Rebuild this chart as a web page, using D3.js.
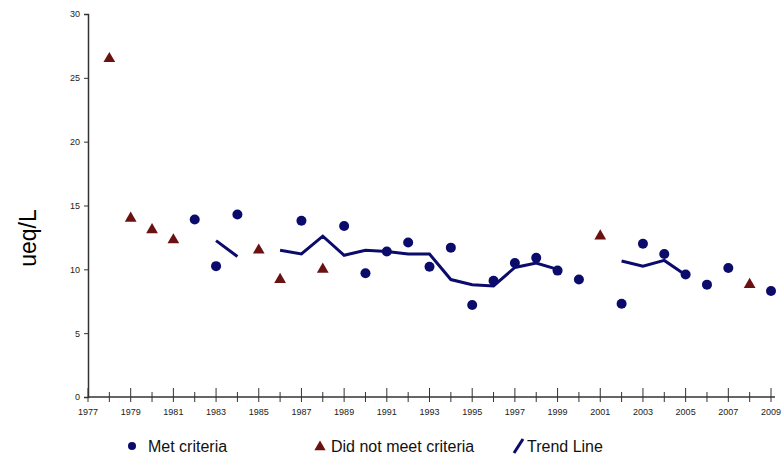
<!DOCTYPE html>
<html>
<head>
<meta charset="utf-8">
<script src="https://cdn.jsdelivr.net/npm/d3@7/dist/d3.min.js"></script>
<style>
  body { margin: 0; background: #fff; }
  svg { display: block; font-family: Arial, "Liberation Sans", sans-serif; }
</style>
</head>
<body>
<svg id="chart" width="783" height="456"></svg>
<script>
// met criteria (circles)
var metYears  = [1982, 1983, 1984, 1987, 1989, 1990, 1991, 1992, 1993, 1994, 1995, 1996, 1997, 1998, 1999, 2000, 2002, 2003, 2004, 2005, 2006, 2007, 2009];
var metValues = [13.9, 10.25, 14.3, 13.8, 13.4, 9.7, 11.4, 12.1, 10.2, 11.7, 7.2, 9.1, 10.5, 10.9, 9.9, 9.2, 7.3, 12.0, 11.2, 9.6, 8.8, 10.1, 8.3];

// did not meet criteria (triangles)
var notMetYears  = [1978, 1979, 1980, 1981, 1985, 1986, 1988, 2001, 2008];
var notMetValues = [26.5, 14.0, 13.1, 12.3, 11.5, 9.2, 10.0, 12.6, 8.8];

// trend line, three separate pieces
var trendYears = [
  [1983, 1984],
  [1986, 1987, 1988, 1989, 1990, 1991, 1992, 1993, 1994, 1995, 1996, 1997, 1998, 1999],
  [2002, 2003, 2004, 2005]
];
var trendValues = [
  [12.25, 11.0],
  [11.5, 11.2, 12.6, 11.1, 11.5, 11.4, 11.2, 11.2, 9.2, 8.8, 8.7, 10.15, 10.5, 10.0],
  [10.65, 10.25, 10.7, 9.55]
];

var yTicks = [0, 5, 10, 15, 20, 25, 30];
var xLabelYears = d3.range(1977, 2010, 2);
var xAllYears = d3.range(1977, 2010);

var navy = "#0b0b6b";
var maroon = "#6a1212";

var svg = d3.select("#chart");

var x = d3.scaleLinear().domain([1977, 2009]).range([88, 771]);
var y = d3.scaleLinear().domain([0, 30]).range([397, 14]);

// y axis
var yAxis = svg.append("g").attr("transform", "translate(88,0)")
  .call(d3.axisLeft(y).tickValues(yTicks).tickSize(4).tickPadding(4));
yAxis.select(".domain").attr("stroke", "#333").attr("stroke-width", 1.5);
yAxis.selectAll(".tick line").attr("stroke", "#333");
yAxis.selectAll("text").attr("font-size", 9).attr("fill", "#222");

// x axis
var xg = svg.append("g").attr("transform", "translate(0,397)");
xg.append("line").attr("x1", 88).attr("x2", 775).attr("y1", 0).attr("y2", 0)
  .attr("stroke", "#333").attr("stroke-width", 1.5);
xg.selectAll("line.tk").data(xAllYears).enter().append("line")
  .attr("class", "tk")
  .attr("x1", function (d) { return x(d); })
  .attr("x2", function (d) { return x(d); })
  .attr("y1", function (d) { return d % 2 ? -9 : -5; })
  .attr("y2", 5)
  .attr("stroke", "#333");
xg.selectAll("text").data(xLabelYears).enter().append("text")
  .attr("x", function (d) { return x(d); })
  .attr("y", 18)
  .attr("text-anchor", "middle")
  .attr("font-size", 9)
  .attr("fill", "#222")
  .text(function (d) { return d; });

// y label
svg.append("text")
  .attr("transform", "translate(36,238) rotate(-90)")
  .attr("text-anchor", "middle")
  .attr("font-size", 23)
  .attr("fill", "#000")
  .text("ueq/L");

// trend line
var line = d3.line().x(function (d) { return x(d[0]); }).y(function (d) { return y(d[1]); });
trendYears.forEach(function (yrs, i) {
  svg.append("path")
    .datum(d3.zip(yrs, trendValues[i]))
    .attr("d", line)
    .attr("fill", "none")
    .attr("stroke", navy)
    .attr("stroke-width", 3);
});

// circles
svg.selectAll("circle.met").data(d3.zip(metYears, metValues)).enter().append("circle")
  .attr("class", "met")
  .attr("cx", function (d) { return x(d[0]); })
  .attr("cy", function (d) { return y(d[1]); })
  .attr("r", 5)
  .attr("fill", navy);

// triangles
var tri = d3.symbol().type(d3.symbolTriangle).size(60);
svg.selectAll("path.notmet").data(d3.zip(notMetYears, notMetValues)).enter().append("path")
  .attr("class", "notmet")
  .attr("d", tri)
  .attr("transform", function (d) { return "translate(" + x(d[0]) + "," + y(d[1]) + ")"; })
  .attr("fill", maroon);

// legend
var lg = svg.append("g").attr("font-size", 16).attr("fill", "#111");
lg.append("circle").attr("cx", 132).attr("cy", 446).attr("r", 4).attr("fill", navy);
lg.append("text").attr("x", 148).attr("y", 452).text("Met criteria");
lg.append("path").attr("d", d3.symbol().type(d3.symbolTriangle).size(55))
  .attr("transform", "translate(320,447)").attr("fill", maroon);
lg.append("text").attr("x", 331).attr("y", 452).text("Did not meet criteria");
lg.append("line").attr("x1", 514).attr("y1", 453).attr("x2", 523).attr("y2", 439)
  .attr("stroke", navy).attr("stroke-width", 3);
lg.append("text").attr("x", 527).attr("y", 452).text("Trend Line");
</script>
</body>
</html>
